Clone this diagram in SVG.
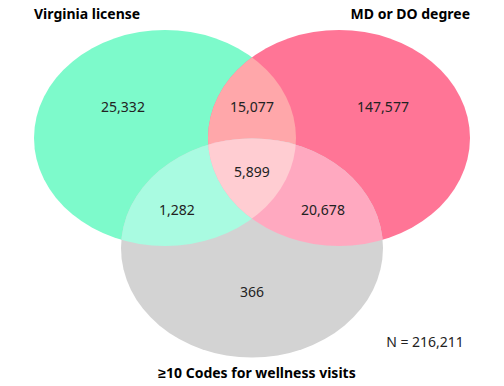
<svg xmlns="http://www.w3.org/2000/svg" width="504" height="386" viewBox="0 0 504 386">
  <style>
    .title { font-family: "Noto Sans", "Liberation Sans", sans-serif; font-size: 14px; font-weight: bold; fill: #000; }
    .num { font-family: "Noto Sans", "Liberation Sans", sans-serif; font-size: 14px; fill: #222; text-anchor: middle; }
  </style>
  <defs>
    <clipPath id="cG"><ellipse cx="165" cy="138" rx="131" ry="108"/></clipPath>
    <clipPath id="cP"><ellipse cx="339" cy="138" rx="131" ry="108"/></clipPath>
  </defs>
  <rect width="504" height="386" fill="#fff"/>
  <g id="set-virginia">
    <ellipse cx="165" cy="138" rx="131" ry="108" fill="#7DFACB"/>
  </g>
  <g id="set-md">
    <ellipse cx="339" cy="138" rx="131" ry="108" fill="#FF7596"/>
  </g>
  <g id="set-wellness">
    <ellipse cx="252" cy="248" rx="131" ry="109.5" fill="#D3D3D3"/>
  </g>
  <g id="overlaps">
    <g clip-path="url(#cG)"><ellipse cx="339" cy="138" rx="131" ry="108" fill="#FFA7AA"/></g>
    <g clip-path="url(#cG)"><ellipse cx="252" cy="248" rx="131" ry="109.5" fill="#A9FBE1"/></g>
    <g clip-path="url(#cP)"><ellipse cx="252" cy="248" rx="131" ry="109.5" fill="#FFA9C0"/></g>
    <g clip-path="url(#cG)"><g clip-path="url(#cP)"><ellipse cx="252" cy="248" rx="131" ry="109.5" fill="#FFCDD2"/></g></g>
  </g>
  <g id="labels">
    <text class="title" x="34" y="19">Virginia license</text>
    <text class="title" x="470" y="19" text-anchor="end">MD or DO degree</text>
    <text class="title" x="257" y="378" text-anchor="middle">≥10 Codes for wellness visits</text>
    <text class="num" x="123" y="112">25,332</text>
    <text class="num" x="252" y="112">15,077</text>
    <text class="num" x="383" y="112">147,577</text>
    <text class="num" x="252" y="177">5,899</text>
    <text class="num" x="177" y="215">1,282</text>
    <text class="num" x="323" y="215">20,678</text>
    <text class="num" x="252" y="297">366</text>
    <text class="num" x="425" y="347">N = 216,211</text>
  </g>
</svg>
